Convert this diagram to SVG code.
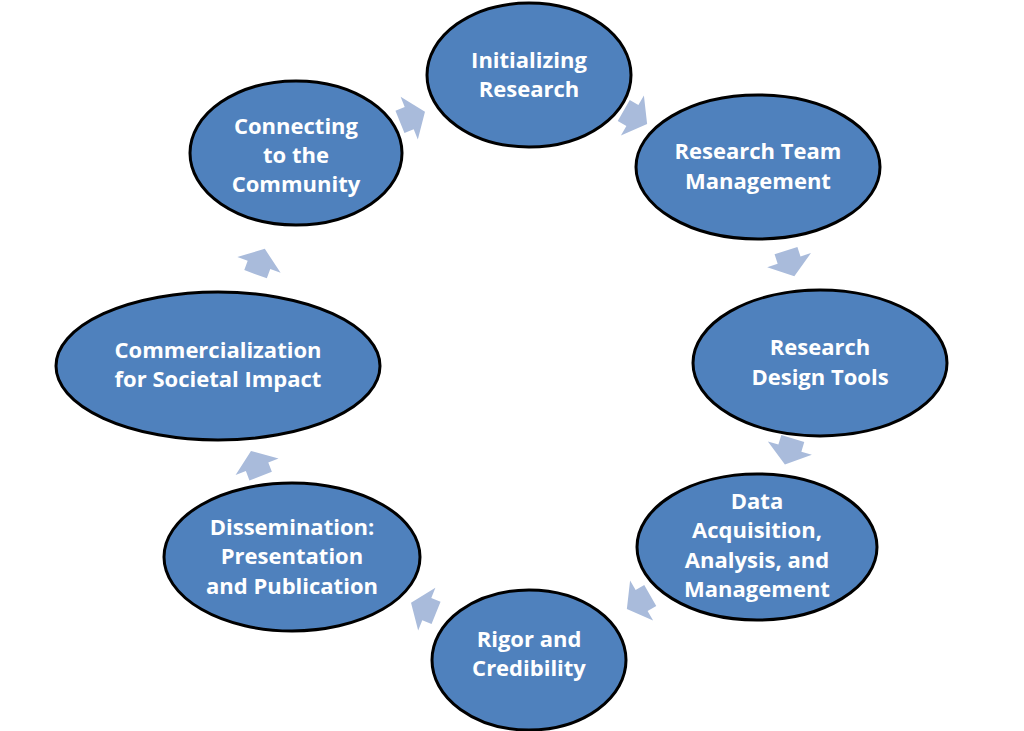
<svg xmlns="http://www.w3.org/2000/svg" width="1024" height="731" viewBox="0 0 1024 731">
<defs>
<style>
.n{fill:#4F81BD;stroke:#000;stroke-width:3}
.t{fill:#fff;font-family:"Open Sans","Liberation Sans",sans-serif;font-weight:bold;font-size:22px;text-anchor:middle}
.a{fill:#A9BBDB}
</style>
<path id="arr" d="M-13,-12 L-3,-12 L-3,-23 L14,0 L-3,23 L-3,12 L-13,12 Z"/>
</defs>
<rect width="1024" height="731" fill="#fff"/>
<g id="connectors">
<use href="#arr" class="a" transform="translate(412,117) rotate(-22)"/>
<use href="#arr" class="a" transform="translate(635,117) rotate(30)"/>
<use href="#arr" class="a" transform="translate(790,263) rotate(72)"/>
<use href="#arr" class="a" transform="translate(789,451) rotate(107)"/>
<use href="#arr" class="a" transform="translate(639,602) rotate(150)"/>
<use href="#arr" class="a" transform="translate(424,608) rotate(202)"/>
<use href="#arr" class="a" transform="translate(256,464) rotate(249)"/>
<use href="#arr" class="a" transform="translate(260,262) rotate(290)"/>
</g>
<g id="n1"><ellipse class="n" cx="529" cy="75" rx="102" ry="72"/><text class="t" x="529" y="68">Initializing</text><text class="t" x="529" y="97">Research</text></g>
<g id="n2"><ellipse class="n" cx="758" cy="167" rx="122" ry="72"/><text class="t" x="758" y="159">Research Team</text><text class="t" x="758" y="189">Management</text></g>
<g id="n3"><ellipse class="n" cx="820" cy="363" rx="127" ry="73"/><text class="t" x="820" y="355">Research</text><text class="t" x="820" y="385">Design Tools</text></g>
<g id="n4"><ellipse class="n" cx="757" cy="547" rx="120" ry="73"/><text class="t" x="757" y="509">Data</text><text class="t" x="757" y="538">Acquisition,</text><text class="t" x="757" y="568">Analysis, and</text><text class="t" x="757" y="597">Management</text></g>
<g id="n5"><ellipse class="n" cx="529" cy="660" rx="97" ry="70"/><text class="t" x="529" y="647">Rigor and</text><text class="t" x="529" y="676">Credibility</text></g>
<g id="n6"><ellipse class="n" cx="292" cy="557" rx="128" ry="74"/><text class="t" x="292" y="535">Dissemination:</text><text class="t" x="292" y="564">Presentation</text><text class="t" x="292" y="594">and Publication</text></g>
<g id="n7"><ellipse class="n" cx="218" cy="366" rx="162" ry="74"/><text class="t" x="218" y="358">Commercialization</text><text class="t" x="218" y="387">for Societal Impact</text></g>
<g id="n8"><ellipse class="n" cx="296" cy="153" rx="106" ry="72"/><text class="t" x="296" y="134">Connecting</text><text class="t" x="296" y="163">to the</text><text class="t" x="296" y="192">Community</text></g>
</svg>
